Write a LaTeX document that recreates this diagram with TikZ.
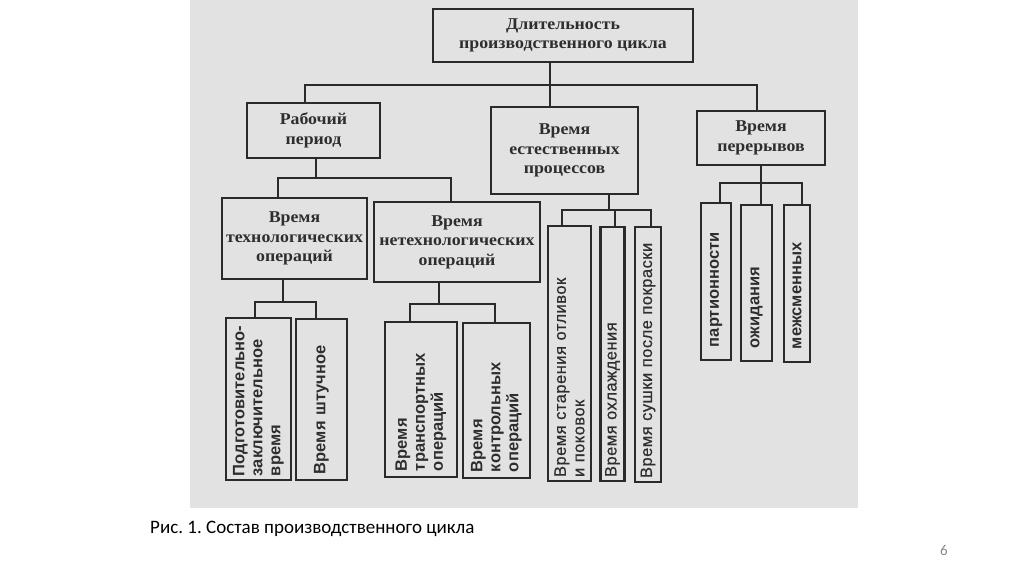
\documentclass[tikz,border=0pt]{standalone}
\usepackage{fontspec}
\setmainfont{Liberation Serif}
\newfontfamily\dserif{Liberation Serif}[FakeStretch=1.08]
\newfontfamily\dsans{Liberation Sans}
\newfontfamily\dsanssp{Liberation Sans}[LetterSpace=3,FakeBold=0.6]
\newfontfamily\capfont{Carlito}
\frenchspacing
\definecolor{scan}{HTML}{E2E2E2}
\definecolor{linec}{HTML}{2A2A2A}
\definecolor{txtc}{HTML}{2E2E2E}
\definecolor{pgnum}{HTML}{8A8A8A}
\tikzset{
  hbox/.style={draw=linec, line width=2.4pt, fill=scan, inner sep=0pt, align=center, text=txtc,
    font=\dserif\bfseries\fontsize{16.5}{19.5}\selectfont},
  vbox/.style={draw=linec, line width=2.4pt, fill=scan, rotate=90, inner xsep=6pt, inner ysep=0pt,
    align=left, text=txtc, font=\dsans\bfseries\fontsize{16.5}{18}\selectfont},
  vboxsp/.style={vbox, inner xsep=4pt, font=\dsanssp\fontsize{16.5}{18.5}\selectfont},
  conn/.style={draw=linec, line width=2.2pt, line cap=rect}
}
\begin{document}
\begin{tikzpicture}[x=1pt,y=-1pt]
\useasboundingbox (0,0) rectangle (1024,574);
\fill[white] (0,0) rectangle (1024,574);
\fill[scan] (190,0) rectangle (858,508);

% junction coordinates
\coordinate (b0) at (550,85);
\coordinate (b0l) at (305,85);
\coordinate (b0r) at (757,85);
\coordinate (b1) at (316,178);
\coordinate (b1l) at (278,178);
\coordinate (b1r) at (451,178);
\coordinate (b2) at (283,302);
\coordinate (b2l) at (255,302);
\coordinate (b2r) at (316,302);
\coordinate (b3) at (439,304);
\coordinate (b3l) at (410,304);
\coordinate (b3r) at (495,304);
\coordinate (b4) at (609,210);
\coordinate (b4l) at (562,210);
\coordinate (b4m) at (615,210);
\coordinate (b4r) at (651,210);
\coordinate (b5) at (761,183);
\coordinate (b5l) at (720,183);
\coordinate (b5r) at (802,183);

% connectors (drawn first, boxes on top)
\path[conn] (550,62) -- (b0) -- (550,107);
\path[conn] (305,103) -- (b0l) -- (b0r) -- (757,111);
\path[conn] (316,158) -- (b1);
\path[conn] (278,198) -- (b1l) -- (b1r) -- (451,202);
\path[conn] (283,279) -- (b2);
\path[conn] (255,318) -- (b2l) -- (b2r) -- (316,319);
\path[conn] (439,282) -- (b3);
\path[conn] (410,322) -- (b3l) -- (b3r) -- (495,323);
\path[conn] (609,194) -- (b4);
\path[conn] (562,226) -- (b4l) -- (b4r) -- (651,227);
\path[conn] (b4m) -- (615,227);
\path[conn] (761,165) -- (b5);
\path[conn] (720,203) -- (b5l) -- (b5r) -- (802,205);
\path[conn] (b5) -- (761,205);

% horizontal boxes
\node[hbox, minimum width=260pt, minimum height=53pt] (top) at (563,35.5) {Длительность\\производственного цикла};
\node[hbox, minimum width=133pt, minimum height=55pt] (rab) at (313.5,130.5) {Рабочий\\период};
\node[hbox, minimum width=147pt, minimum height=87pt] (est) at (564.5,150.5) {Время\\естественных\\процессов};
\node[hbox, minimum width=128pt, minimum height=54pt] (per) at (761,138) {Время\\перерывов};
\node[hbox, minimum width=145pt, minimum height=81pt] (tech) at (294.5,238.5) {Время\\технологических\\операций};
\node[hbox, minimum width=166pt, minimum height=80pt] (netech) at (457,242) {Время\\нетехнологических\\операций};

% vertical boxes
\node[vbox, minimum width=162pt, minimum height=65pt, inner xsep=4pt, text width=154pt] (podg) at (258.5,399) {Подготовительно-\\заключительное\\время};
\node[vbox, minimum width=161pt, minimum height=51pt, text width=149pt] (shtuch) at (321.5,399.5) {Время штучное};
\node[vbox, minimum width=155pt, minimum height=72pt, text width=143pt] (transp) at (421,399.5) {Время\\транспортных\\операций};
\node[vbox, minimum width=155pt, minimum height=67pt, text width=143pt] (kontr) at (496.5,400.5) {Время\\контрольных\\операций};
\node[vboxsp, minimum width=255pt, minimum height=43pt, text width=247pt] (star) at (569.5,353.5) {Время старения отливок\\и поковок};
\node[vboxsp, minimum width=254pt, minimum height=24pt, text width=246pt] (ohl) at (612.5,354) {Время охлаждения};
\node[vboxsp, minimum width=255pt, minimum height=26pt, text width=247pt] (sush) at (648,354.5) {Время сушки после покраски};
\node[vbox, minimum width=157pt, minimum height=30pt, inner xsep=13pt, text width=131pt] (part) at (716,281.5) {партионности};
\node[vbox, minimum width=156pt, minimum height=31pt, inner xsep=13pt, text width=130pt] (ozh) at (756.5,283) {ожидания};
\node[vbox, minimum width=157pt, minimum height=26pt, inner xsep=13pt, text width=131pt] (mezh) at (797,283.5) {межсменных};

% caption and page number
\node[anchor=base west, inner sep=0pt, font=\capfont\fontsize{19}{21}\selectfont, text=black] (cap) at (150,533) {Рис. 1. Состав производственного цикла};
\node[anchor=base, inner sep=0pt, font=\capfont\fontsize{15}{17}\selectfont, text=pgnum] (pg) at (944,555) {6};
\end{tikzpicture}
\end{document}
